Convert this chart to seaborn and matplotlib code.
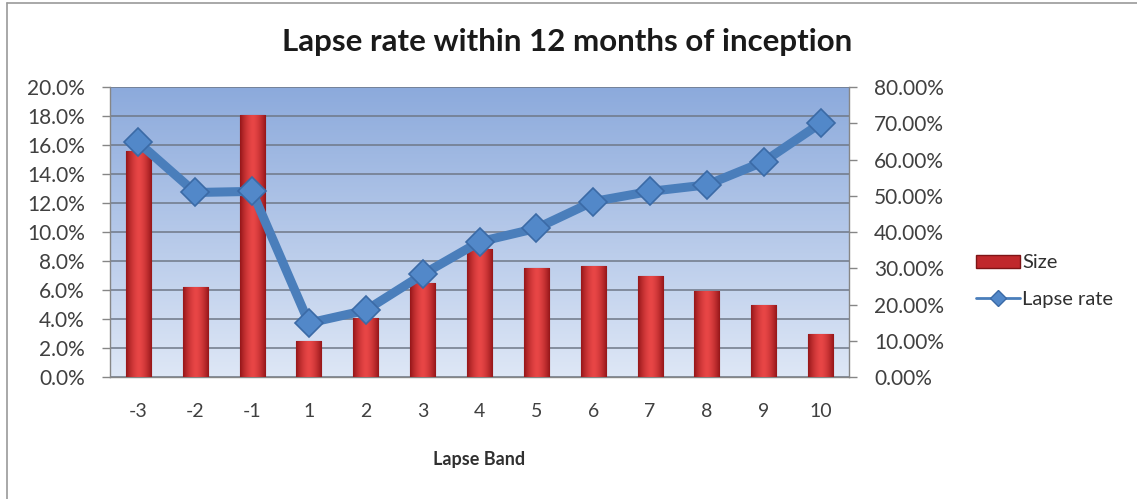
import numpy as np
import pandas as pd
import matplotlib
matplotlib.use("Agg")
import matplotlib.pyplot as plt
from matplotlib.lines import Line2D
from matplotlib.patches import Patch
from matplotlib.ticker import FuncFormatter, FixedLocator
import seaborn as sns

# Data
bands = ["-3", "-2", "-1", "1", "2", "3", "4", "5", "6", "7", "8", "9", "10"]
size_share = [15.6, 6.2, 18.1, 2.5, 4.1, 6.5, 8.8, 7.55, 7.65, 6.95, 5.95, 5.0, 2.95]   # % of policies
lapse_rate = [64.7, 50.9, 51.2, 14.9, 18.4, 28.3, 37.3, 41.0, 48.4, 51.2, 53.0, 59.4, 70.0]  # %

df = pd.DataFrame({"band": bands, "size": size_share, "lapse": lapse_rate})

sns.set_theme(style="white")
plt.rcParams["font.family"] = ["Lato", "DejaVu Sans"]

W, H = 1137, 499
fig = plt.figure(figsize=(W / 100, H / 100), dpi=100)
fig.patch.set_facecolor("white")

# chart-area frame (left and top edges)
fig.add_artist(Line2D([7 / W, 7 / W], [0, 1 - 3 / H], transform=fig.transFigure, color="#9a9a9a", lw=1.2))
fig.add_artist(Line2D([7 / W, 1], [1 - 3 / H, 1 - 3 / H], transform=fig.transFigure, color="#9a9a9a", lw=1.2))

left, right, top, bottom = 110, 849, 87, 377
ax = fig.add_axes([left / W, 1 - bottom / H, (right - left) / W, (bottom - top) / H])

# vertical blue gradient behind the plot area (darker at the top)
grad = np.linspace(0, 1, 256).reshape(-1, 1)
c_top = np.array([140, 170, 220]) / 255
c_bot = np.array([222, 231, 246]) / 255
img = c_top[None, None, :] * (1 - grad[..., None]) + c_bot[None, None, :] * grad[..., None]
ax.imshow(img, extent=[-0.5, 12.5, 0, 20], origin="upper", aspect="auto", zorder=0,
          interpolation="bicubic")

# bars
sns.barplot(data=df, x="band", y="size", ax=ax, color="#c0282c", width=0.44,
            edgecolor="#7e1416", linewidth=0.8, zorder=3)

# horizontal shading on each bar
hgrad = np.linspace(-1, 1, 64)
shade = 1 - np.abs(hgrad) ** 1.6
dark = np.array([150, 22, 25]) / 255
light = np.array([232, 70, 70]) / 255
bar_img = (dark[None, :] * (1 - shade[:, None]) + light[None, :] * shade[:, None])[None, :, :]
for p in ax.patches:
    x0, y0 = p.get_x(), p.get_y()
    w, h = p.get_width(), p.get_height()
    im = ax.imshow(bar_img, extent=[x0, x0 + w, y0, y0 + h], aspect="auto", zorder=3.5,
                   interpolation="bilinear")
    im.set_clip_path(p)

ax.set_xlim(-0.5, 12.5)
ax.set_ylim(0, 20)
ax.yaxis.set_major_locator(FixedLocator(np.arange(0, 20.1, 2)))
ax.yaxis.set_major_formatter(FuncFormatter(lambda v, _: f"{v:.1f}%"))
ax.grid(axis="y", color="#6f7887", lw=1.1, zorder=1)
for gl in ax.get_ygridlines():
    gl.set_zorder(1)

# x tick marks between categories, labels centred on bars
ax.set_xticks(np.arange(13))
ax.set_xticklabels(bands)
ax.set_xticks(np.arange(-0.5, 13, 1), minor=True)
ax.tick_params(axis="x", which="major", length=0, pad=19, labelsize=14, labelcolor="#404040")
ax.tick_params(axis="x", which="minor", length=6, width=1, color="#868686", direction="out")
ax.tick_params(axis="y", which="major", length=6, width=1, color="#868686", direction="out",
               labelsize=15, labelcolor="#404040", pad=12)
ax.set_xlabel("Lapse Band", fontsize=13, fontweight="bold", color="#303030", labelpad=22)
ax.set_ylabel("")

for s in ["left", "bottom"]:
    ax.spines[s].set_color("#868686")
    ax.spines[s].set_linewidth(1)
ax.spines["top"].set_visible(False)
ax.spines["right"].set_visible(False)

# lapse rate line on secondary axis
ax2 = ax.twinx()
sns.lineplot(data=df, x="band", y="lapse", ax=ax2, color="#4a7ebb", linewidth=6.5,
             marker="D", markersize=14, markerfacecolor="#5288c9", markeredgecolor="#3b6aa6",
             markeredgewidth=1.2, sort=False, zorder=5, legend=False)
ax2.set_ylim(0, 80)
ax2.yaxis.set_major_locator(FixedLocator(np.arange(0, 80.1, 10)))
ax2.yaxis.set_major_formatter(FuncFormatter(lambda v, _: f"{v:.2f}%"))
ax2.tick_params(axis="y", which="major", length=6, width=1, color="#868686", direction="out",
                labelsize=15, labelcolor="#404040", pad=12, right=True)
ax2.set_ylabel("")
ax2.set_xlabel("")
ax2.grid(False)
for s in ["left", "top", "bottom"]:
    ax2.spines[s].set_visible(False)
ax2.spines["right"].set_color("#868686")
ax2.spines["right"].set_linewidth(1)

# title
fig.text(567 / W, 1 - 42 / H, "Lapse rate within 12 months of inception", ha="center", va="center",
         fontsize=22.5, fontweight="bold", color="#1a1a1a")

# legend
handles = [
    Patch(facecolor="#c0282c", edgecolor="#7e1416", label="Size"),
    Line2D([0], [0], color="#4a7ebb", lw=2, marker="D", markersize=8,
           markerfacecolor="#5288c9", markeredgecolor="#3b6aa6", label="Lapse rate"),
]
fig.legend(handles=handles, loc="center left", bbox_to_anchor=(976 / W, 1 - 281 / H),
           frameon=False, fontsize=14.5, handlelength=2.2, handleheight=0.6, handletextpad=0.1,
           labelspacing=0.95, labelcolor="#303030", borderpad=0, borderaxespad=0)

fig.savefig("out.png", dpi=100, facecolor="white")
